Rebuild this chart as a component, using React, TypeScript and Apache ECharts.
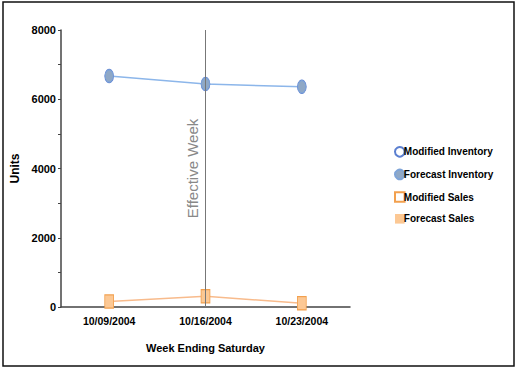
import React, { useEffect, useRef } from "react";
import * as echarts from "echarts";

const categories = ["10/09/2004", "10/16/2004", "10/23/2004"];
const modifiedInventory = [6670, 6440, 6360];
const forecastInventory = [6670, 6440, 6360];
const modifiedSales = [160, 310, 110];
const forecastSales = [160, 310, 110];
const effectiveWeek = "10/16/2004";
const yTicks = { min: 0, max: 8000, interval: 1000, labelStep: 2000 };

const NARROW = "'Liberation Sans Narrow', 'Arial Narrow', 'Liberation Sans', sans-serif";

export default function App() {
  const ref = useRef<HTMLDivElement>(null);
  useEffect(() => {
    if (!ref.current) return;
    const chart = echarts.init(ref.current, undefined, { renderer: "svg" });
    chart.setOption({
      animation: false,
      backgroundColor: "#ffffff",
      graphic: [
        {
          type: "rect",
          shape: { x: 3, y: 2, width: 511, height: 364 },
          style: { fill: "none", stroke: "#111", lineWidth: 1.5 },
          silent: true,
        },
      ],
      grid: { left: 61, right: 166, top: 30, bottom: 61 },
      legend: {
        orient: "vertical",
        left: 389,
        top: 141,
        itemWidth: 8,
        itemHeight: 12,
        itemGap: 11,
        textStyle: { fontFamily: NARROW, fontWeight: "bold", fontSize: 10, color: "#000", padding: [0, 0, 0, -5] },
        data: ["Modified Inventory", "Forecast Inventory", "Modified Sales", "Forecast Sales"],
      },
      xAxis: {
        type: "category",
        data: categories,
        boundaryGap: true,
        name: "Week Ending Saturday",
        nameLocation: "middle",
        nameGap: 35,
        nameTextStyle: { fontFamily: NARROW, fontWeight: "bold", fontSize: 11, color: "#000" },
        axisLine: { lineStyle: { color: "#444", width: 1.5 } },
        axisTick: { length: 4, lineStyle: { color: "#444" } },
        axisLabel: { fontFamily: NARROW, fontWeight: "bold", fontSize: 10.5, color: "#000", margin: 8 },
        splitLine: { show: false },
      },
      yAxis: {
        type: "value",
        min: yTicks.min,
        max: yTicks.max,
        interval: yTicks.interval,
        name: "Units",
        nameLocation: "middle",
        nameGap: 36,
        nameTextStyle: { fontFamily: NARROW, fontWeight: "bold", fontSize: 12, color: "#000" },
        axisLine: { show: true, lineStyle: { color: "#444", width: 1.5 } },
        axisTick: { show: true, length: 3, lineStyle: { color: "#444" } },
        axisLabel: {
          fontFamily: NARROW,
          fontWeight: "bold",
          fontSize: 11,
          color: "#000",
          margin: 5,
          formatter: (v: number) => (v % yTicks.labelStep === 0 ? String(v) : ""),
        },
        splitLine: { show: false },
      },
      series: [
        {
          name: "Modified Inventory",
          type: "line",
          data: modifiedInventory,
          symbol: "emptyCircle",
          symbolSize: [8, 12],
          itemStyle: { color: "#5b7fd0", borderColor: "#5b7fd0", borderWidth: 1 },
          lineStyle: { color: "#8cb6ea", width: 1.5 },
          z: 2,
        },
        {
          name: "Forecast Inventory",
          type: "line",
          data: forecastInventory,
          symbol: "circle",
          symbolSize: [8, 12],
          itemStyle: { color: "#8fa8c6", borderColor: "#7ea4d8", borderWidth: 1 },
          lineStyle: { width: 0, opacity: 0 },
          z: 3,
          markLine: {
            silent: true,
            symbol: "none",
            lineStyle: { color: "#777", width: 1, type: "solid" },
            label: {
              show: true,
              formatter: "Effective Week",
              position: "insideMiddleTop",
              fontFamily: "'Liberation Sans', Arial, sans-serif",
              fontSize: 15,
              color: "#888",
              distance: 6,
            },
            data: [{ xAxis: effectiveWeek }],
          },
        },
        {
          name: "Modified Sales",
          type: "line",
          data: modifiedSales,
          symbol: "emptyRect",
          symbolSize: [8, 12],
          itemStyle: { color: "#f2a04e", borderColor: "#f2a04e", borderWidth: 1 },
          lineStyle: { color: "#f8bb8c", width: 1.5 },
          z: 2,
        },
        {
          name: "Forecast Sales",
          type: "line",
          data: forecastSales,
          symbol: "rect",
          symbolSize: [8, 12],
          itemStyle: { color: "#fcc894" },
          lineStyle: { width: 0, opacity: 0 },
          z: 3,
        },
      ],
    });
    return () => chart.dispose();
  }, []);
  return (
    <div
      ref={ref}
      style={{ position: "fixed", left: 0, top: 0, width: 516, height: 368, background: "#fff" }}
    />
  );
}
